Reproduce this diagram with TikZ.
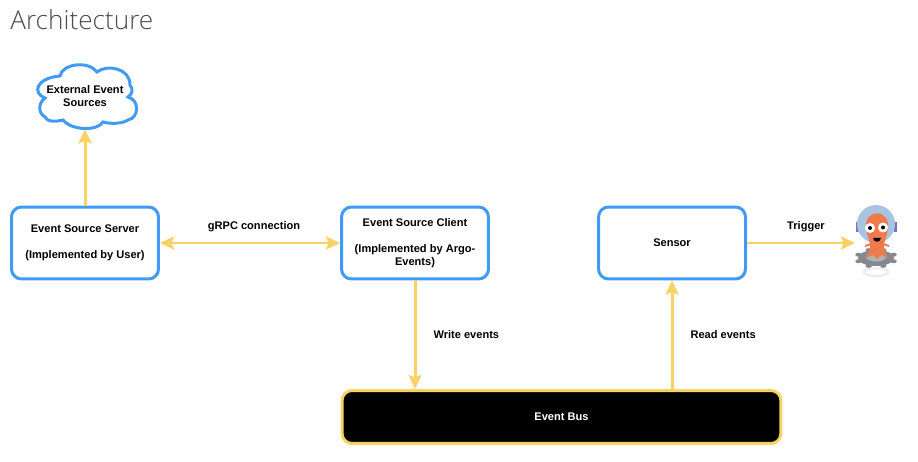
\documentclass[tikz,border=0pt]{standalone}
\usepackage{fontspec}
\setmainfont{Liberation Sans}
\newfontfamily\titlefont{Open Sans Light}
\usetikzlibrary{arrows.meta}
\definecolor{boxblue}{HTML}{3F9BF5}
\definecolor{linkyellow}{HTML}{F8D264}
\definecolor{octo}{HTML}{EF7B4D}
\definecolor{geargrey}{HTML}{85888E}
\definecolor{helmet}{HTML}{A9C3E3}
\definecolor{earpiece}{HTML}{6F78B8}
\tikzset{
    box/.style={draw=boxblue, line width=.06cm, rounded corners=.2cm, fill=white, align=center, font=\bfseries\fontsize{6.3}{7.4}\selectfont, minimum width=2.94cm, minimum height=1.44cm, inner sep=0pt},
    link/.style={draw=linkyellow, line width=.06cm, >={Stealth[length=.28cm,width=.26cm,inset=.05cm]}},
    lbl/.style={font=\bfseries\fontsize{6.3}{8}\selectfont, inner sep=0pt},
}
\begin{document}
\begin{tikzpicture}[x=.02cm, y=-.02cm]
    \useasboundingbox (0,0) rectangle (918,462);
    \node[anchor=west, inner sep=0pt, text=black!70, font=\titlefont\fontsize{14.9}{18}\selectfont] (title) at (10,20) {Architecture};

    \node[box] (server) at (85,243) {Event Source Server\\[.26cm](Implemented by User)};
    \node[box] (client) at (415,243) {Event Source Client\\[.26cm](Implemented by Argo-\\Events)};
    \node[box] (sensor) at (672,243) {Sensor};
    \node[box, draw=linkyellow, fill=black, text=white, minimum width=8.78cm, minimum height=1.06cm] (bus) at (561.5,417) {Event Bus};

    % cloud outline
    \draw[boxblue, line width=.06cm, fill=white] (45,98) .. controls (32,93) and (36,78) .. (60,76)
        .. controls (62,64) and (88,60) .. (97,72)
        .. controls (107,64) and (130,68) .. (130,85)
        .. controls (134,90) and (132,94) .. (128,97)
        .. controls (140,100) and (139,118) .. (128,120)
        .. controls (122,124) and (110,124) .. (103,122)
        .. controls (98,131) and (72,131) .. (63,120)
        .. controls (55,122) and (47,122) .. (45,117)
        .. controls (38,113) and (38,103) .. (45,98) -- cycle;
    \node[align=center, inner sep=0pt, minimum width=2cm, minimum height=1.3cm, font=\bfseries\fontsize{6.3}{7.4}\selectfont] (cloud) at (85,96.5) {External Event\\Sources};
    \coordinate (logo) at (855,243);

    \draw[link,->] (server.north) -- (cloud.south);
    \draw[link,<->] (server) -- (client) node[lbl, midway, above=.2cm, xshift=.08cm] (grpc) {gRPC connection};
    \draw[link,->] (client) -- (client |- bus.north) node[lbl, midway, right=.34cm] (write) {Write events};
    \draw[link,->] (sensor |- bus.north) -- (sensor) node[lbl, midway, right=.34cm] (read) {Read events};
    \draw[link,->] (sensor) -- (logo) node[lbl, midway, above=.2cm, xshift=.1cm] (trigger) {Trigger};

    % logo reflection
    \draw[black!7, line width=.05cm] (876,272) circle [x radius=12, y radius=4];
    % logo gear
    \foreach \a in {0,45,...,315}
        \fill[geargrey] ([shift={(\a+22.5:19 and 8.5)}]876,258) circle [x radius=3.2, y radius=2];
    \fill[geargrey] (876,258) circle [x radius=18, y radius=8];
    \fill[black!30] (876,257) circle [x radius=10, y radius=4.5];
    % logo helmet
    \fill[earpiece] (856,222) rectangle (859,232);
    \fill[earpiece] (894,222) rectangle (897,232);
    \fill[helmet] (876,224) circle [radius=19];
    % logo body
    \fill[octo] (866,229) .. controls (863,208) and (891,208) .. (888,229)
        .. controls (887,236) and (884,240) .. (884,247) .. controls (884,251) and (886,254) .. (888,258)
        -- (881,255) -- (877,259) -- (873,255) -- (866,258)
        .. controls (868,254) and (870,251) .. (870,247) .. controls (870,240) and (867,236) .. (866,229) -- cycle;
    \draw[octo, line width=.04cm] (871,244) -- (865,246);
    \draw[octo, line width=.04cm] (883,244) -- (889,246);
    \fill[white] (870,228) circle [radius=5];
    \fill[white] (883,227.5) circle [radius=5];
    \fill[black] (870,228) circle [radius=2];
    \fill[black] (883,227.5) circle [radius=2];
    \fill[black] (873,238) .. controls (874,243) and (880,243) .. (881,238) -- cycle;
\end{tikzpicture}
\end{document}
